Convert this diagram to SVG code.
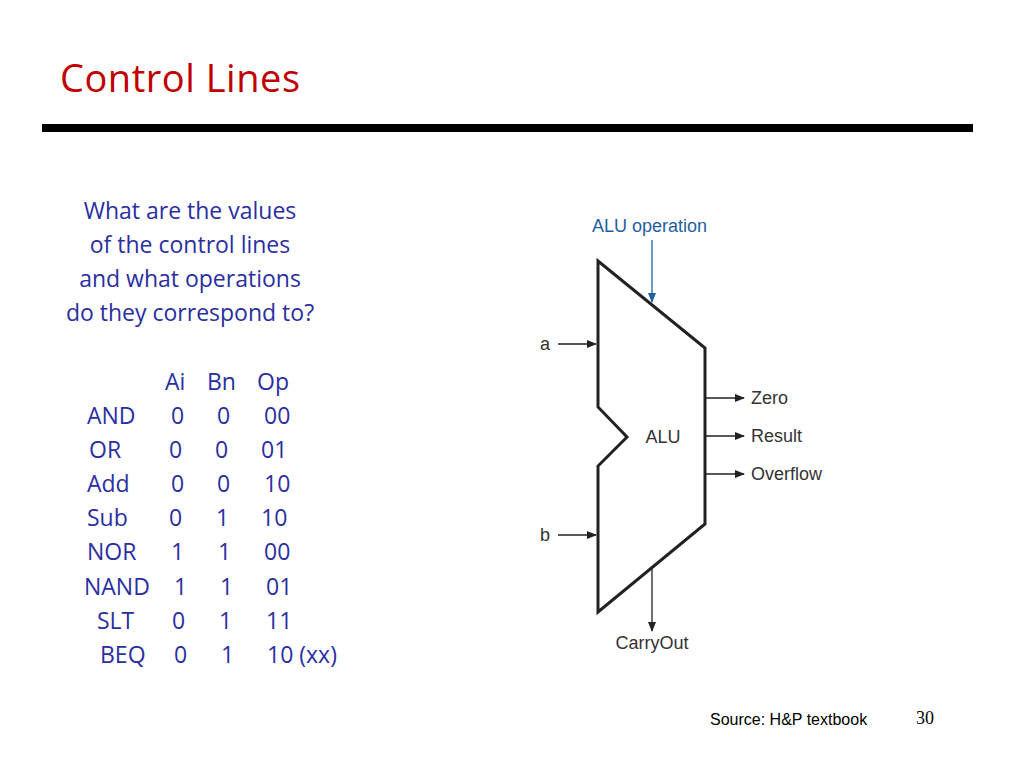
<svg xmlns="http://www.w3.org/2000/svg" width="1024" height="768" viewBox="0 0 1024 768">
<style>
.q{font-family:"Open Sans","Liberation Sans",sans-serif;font-size:23px;fill:#2B2FA0}
.d{font-family:"Liberation Sans",Arial,sans-serif;font-size:18px;fill:#333}
.w{stroke:#222;stroke-width:1.3;fill:none}
</style>
<defs><marker id="ar" markerWidth="10" markerHeight="8" refX="9" refY="4" orient="auto" markerUnits="userSpaceOnUse"><path d="M0,0L10,4L0,8z" fill="#222"/></marker>
<marker id="ab" markerWidth="10" markerHeight="8" refX="9" refY="4" orient="auto" markerUnits="userSpaceOnUse"><path d="M0,0L10,4L0,8z" fill="#1F5FA0"/></marker></defs>
<rect width="1024" height="768" fill="#fff"/>
<text x="60" y="92" font-family="Open Sans,Liberation Sans,sans-serif" font-size="38" fill="#C00000" textLength="240">Control Lines</text>
<rect x="42" y="124" width="931" height="8" fill="#000"/>
<g id="question" class="q" text-anchor="middle">
<text x="190" y="219">What are the values</text>
<text x="190" y="253">of the control lines</text>
<text x="190" y="287">and what operations</text>
<text x="190" y="321">do they correspond to?</text>
</g>
<g id="table" class="q">
<text y="390"><tspan x="165">Ai</tspan><tspan x="207">Bn</tspan><tspan x="257">Op</tspan></text>
<text y="424"><tspan x="87">AND</tspan><tspan x="171">0</tspan><tspan x="217">0</tspan><tspan x="264">00</tspan></text>
<text y="458"><tspan x="89">OR</tspan><tspan x="169">0</tspan><tspan x="215">0</tspan><tspan x="261">01</tspan></text>
<text y="492"><tspan x="87">Add</tspan><tspan x="171">0</tspan><tspan x="217">0</tspan><tspan x="264">10</tspan></text>
<text y="526"><tspan x="87">Sub</tspan><tspan x="169">0</tspan><tspan x="216">1</tspan><tspan x="261">10</tspan></text>
<text y="560"><tspan x="87">NOR</tspan><tspan x="171">1</tspan><tspan x="218">1</tspan><tspan x="264">00</tspan></text>
<text y="595"><tspan x="84">NAND</tspan><tspan x="174">1</tspan><tspan x="220">1</tspan><tspan x="266">01</tspan></text>
<text y="629"><tspan x="97">SLT</tspan><tspan x="172">0</tspan><tspan x="219">1</tspan><tspan x="266">11</tspan></text>
<text y="663"><tspan x="100">BEQ</tspan><tspan x="174">0</tspan><tspan x="221">1</tspan><tspan x="267">10 (xx)</tspan></text>
</g>
<g id="alu">
<path d="M598,261L705,348L705,524L598,612L598,466L627,437L598,407Z" fill="#fff" stroke="#222" stroke-width="3" stroke-linejoin="miter"/>
<text x="663" y="443" class="d" text-anchor="middle">ALU</text>
</g>
<g id="connectors">
<line x1="652" y1="240" x2="652" y2="302" stroke="#1F5FA0" stroke-width="1.3" marker-end="url(#ab)"/>
<line class="w" x1="558" y1="344" x2="596" y2="344" marker-end="url(#ar)"/>
<line class="w" x1="558" y1="535" x2="596" y2="535" marker-end="url(#ar)"/>
<line class="w" x1="706" y1="398" x2="744" y2="398" marker-end="url(#ar)"/>
<line class="w" x1="706" y1="436" x2="744" y2="436" marker-end="url(#ar)"/>
<line class="w" x1="706" y1="474" x2="744" y2="474" marker-end="url(#ar)"/>
<line class="w" x1="652" y1="567" x2="652" y2="631" marker-end="url(#ar)"/>
</g>
<g id="labels" class="d">
<text x="592" y="232" style="fill:#1F5FA0">ALU operation</text>
<text x="540" y="350">a</text>
<text x="540" y="541">b</text>
<text x="751" y="404">Zero</text>
<text x="751" y="442">Result</text>
<text x="751" y="480">Overflow</text>
<text x="652" y="649" text-anchor="middle">CarryOut</text>
</g>
<text x="710" y="725" font-family="Liberation Sans,Arial,sans-serif" font-size="16" fill="#000">Source: H&amp;P textbook</text>
<text x="916" y="724" font-family="Liberation Serif,serif" font-size="18" fill="#000">30</text>
</svg>
